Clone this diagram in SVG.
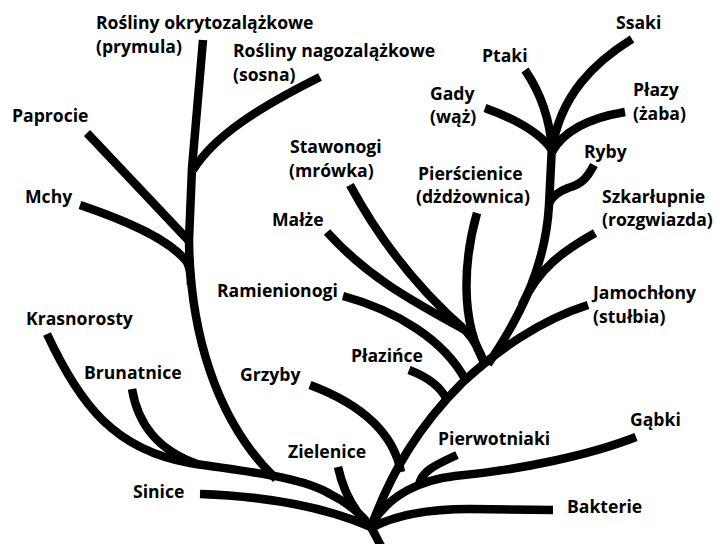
<svg xmlns="http://www.w3.org/2000/svg" width="716" height="544" viewBox="0 0 716 544">
<style>
.b{fill:none;stroke:#000;stroke-width:8.5;stroke-linecap:butt;stroke-linejoin:round}
.t{font-family:"Open Sans","Liberation Sans",sans-serif;font-weight:700;font-size:17.6px;fill:#000}
</style>
<rect width="716" height="544" fill="#fff"/>
<g id="connectors">
<path class="b" d="M371,527 L382,548"/>
<path class="b" d="M200,494 C260,496 320,505 371,527"/>
<path class="b" d="M47,334 C80,405 115,450 190,463 C240,471 300,476 330,494 C350,504 362,515 371,527"/>
<path class="b" d="M132,389 C138,425 158,450 197,464"/>
<path class="b" d="M203,40 L192,168 L189,240 C190,330 215,420 276,479"/>
<path class="b" d="M87,133 L190,242"/>
<path class="b" d="M80,205 C130,222 170,240 187,262 C190,268 191,275 191,285"/>
<path class="b" d="M320,77 C260,107 215,135 193,170"/>
<path class="b" d="M371,527 C392,470 420,425 462,383 C495,352 540,320 588,305"/>
<path class="b" d="M552,145 L549,205 C546,260 525,310 488,364"/>
<path class="b" d="M595,233 C565,250 538,268 522,305"/>
<path class="b" d="M594,165 C587,178 582,184 568,188 C560,191 553,195 549,203"/>
<path class="b" d="M525,70 C540,92 550,118 552,150"/>
<path class="b" d="M485,108 C510,117 538,130 552,150"/>
<path class="b" d="M632,39 C595,62 560,95 552,150"/>
<path class="b" d="M625,112 C595,117 565,128 552,152"/>
<path class="b" d="M350,185 C385,250 425,295 465,330 C474,340 480,350 484,363"/>
<path class="b" d="M327,232 C370,280 420,305 465,330"/>
<path class="b" d="M477,213 C465,255 458,320 486,365"/>
<path class="b" d="M343,296 C395,310 445,340 466,381"/>
<path class="b" d="M409,370 C425,376 440,385 447,400"/>
<path class="b" d="M310,385 C350,400 392,425 401,472"/>
<path class="b" d="M338,467 C343,490 352,510 371,527"/>
<path class="b" d="M636,437 C590,455 520,470 455,476 C420,480 390,495 373,522"/>
<path class="b" d="M457,455 C435,465 420,472 419,486"/>
<path class="b" d="M553,510 L470,509 C430,509 395,515 371,528"/>
</g>
<g id="okrytozalazkowe"><text class="t" x="96" y="29">Rośliny okrytozalążkowe</text><text class="t" x="96" y="53">(prymula)</text></g>
<g id="nagozalazkowe"><text class="t" x="233" y="57">Rośliny nagozalążkowe</text><text class="t" x="233" y="81">(sosna)</text></g>
<g id="paprocie"><text class="t" x="12" y="122">Paprocie</text></g>
<g id="mchy"><text class="t" x="25" y="203">Mchy</text></g>
<g id="krasnorosty"><text class="t" x="26" y="325">Krasnorosty</text></g>
<g id="brunatnice"><text class="t" x="84" y="379">Brunatnice</text></g>
<g id="sinice"><text class="t" x="133" y="498">Sinice</text></g>
<g id="zielenice"><text class="t" x="288" y="458">Zielenice</text></g>
<g id="grzyby"><text class="t" x="240" y="381">Grzyby</text></g>
<g id="ramienionogi"><text class="t" x="217" y="297">Ramienionogi</text></g>
<g id="malze"><text class="t" x="272" y="226">Małże</text></g>
<g id="stawonogi"><text class="t" x="290" y="153">Stawonogi</text><text class="t" x="289" y="177">(mrówka)</text></g>
<g id="pierscienice"><text class="t" x="418" y="180">Pierścienice</text><text class="t" x="416" y="203">(dżdżownica)</text></g>
<g id="plazince"><text class="t" x="351" y="362">Płazińce</text></g>
<g id="pierwotniaki"><text class="t" x="438" y="445">Pierwotniaki</text></g>
<g id="gabki"><text class="t" x="630" y="426">Gąbki</text></g>
<g id="bakterie"><text class="t" x="567" y="513">Bakterie</text></g>
<g id="jamochlony"><text class="t" x="593" y="299">Jamochłony</text><text class="t" x="593" y="323">(stułbia)</text></g>
<g id="szkarlupnie"><text class="t" x="602" y="203">Szkarłupnie</text><text class="t" x="602" y="226">(rozgwiazda)</text></g>
<g id="ryby"><text class="t" x="584" y="158">Ryby</text></g>
<g id="plazy"><text class="t" x="633" y="96">Płazy</text><text class="t" x="633" y="120">(żaba)</text></g>
<g id="gady"><text class="t" x="430" y="100">Gady</text><text class="t" x="430" y="123">(wąż)</text></g>
<g id="ptaki"><text class="t" x="482" y="62">Ptaki</text></g>
<g id="ssaki"><text class="t" x="616" y="29">Ssaki</text></g>
</svg>
